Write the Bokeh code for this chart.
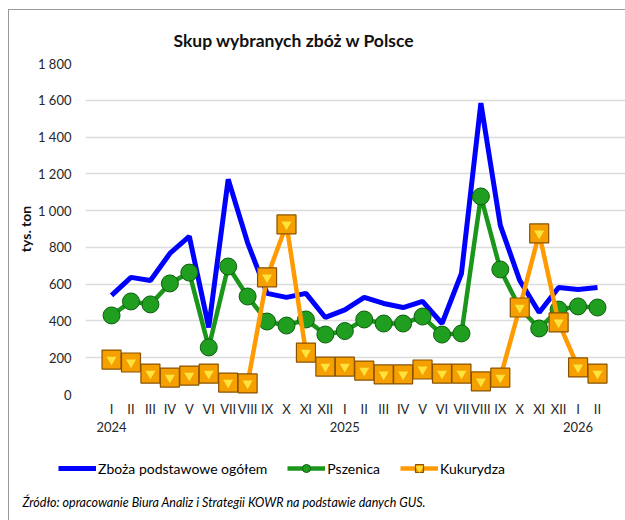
from bokeh.plotting import figure
from bokeh.models import (ColumnDataSource, Legend, LegendItem, FixedTicker,
                          Range1d, LinearAxis)
from bokeh.layouts import column
from bokeh.core.properties import value
from bokeh.embed import file_html
from bokeh.resources import INLINE

# ---- data ----
months = ["I", "II", "III", "IV", "V", "VI", "VII", "VIII", "IX", "X", "XI", "XII",
          "I", "II", "III", "IV", "V", "VI", "VII", "VIII", "IX", "X", "XI", "XII",
          "I", "II"]
year_labels = {0: "2024", 12: "2025", 24: "2026"}
total = [539, 637, 620, 767, 860, 365, 1170, 825, 550, 528, 550, 419, 460,
         528, 495, 473, 506, 386, 658, 1585, 920, 620, 446, 582, 571, 582]
wheat = [430, 506, 490, 604, 663, 256, 696, 533, 397, 375, 408, 326, 345,
         408, 386, 386, 424, 326, 332, 1077, 680, 470, 359, 462, 479, 473]
corn = [190, 174, 114, 92, 103, 114, 65, 60, 637, 925, 228, 152, 152,
        130, 109, 109, 136, 114, 114, 71, 92, 473, 876, 392, 147, 114]
y_ticks = [0, 200, 400, 600, 800, 1000, 1200, 1400, 1600, 1800]
series_names = ["Zboża podstawowe ogółem", "Pszenica", "Kukurydza"]
source_note = "Źródło: opracowanie Biura Analiz i Strategii KOWR na podstawie danych GUS."

FONT = "Lato"
BLUE, GREEN, ORANGE = "#0000ff", "#1a961a", "#ff9a00"
x = list(range(len(months)))
src = ColumnDataSource(dict(x=x, total=total, wheat=wheat, corn=corn))

# ---------- main chart ----------
p = figure(width=616, height=432, output_backend="svg", toolbar_location=None,
           x_range=Range1d(-1.34, 26.44), y_range=Range1d(0, 1800),
           min_border_left=76, min_border_right=0, min_border_top=53, min_border_bottom=48)
p.outline_line_color = None
p.frame_align = False

p.title.text = "Skup wybranych zbóż w Polsce"
p.title.text_font = FONT
p.title.text_font_size = "17.5px"
p.title.text_font_style = "bold"
p.title.text_color = "#111111"
p.title.align = "left"
p.title.offset = 88
p.title.standoff = 25

p.xaxis.ticker = FixedTicker(ticks=x)
p.xaxis.major_label_overrides = {i: m for i, m in enumerate(months)}
p.yaxis.ticker = FixedTicker(ticks=y_ticks)
p.yaxis.major_label_overrides = {t: f"{t:,}".replace(",", " ") for t in y_ticks}

year_axis = LinearAxis(ticker=FixedTicker(ticks=list(year_labels.keys())),
                       major_label_overrides=year_labels)
p.add_layout(year_axis, "below")

for ax in (p.xaxis[0], p.yaxis[0], year_axis):
    ax.axis_line_color = None
    ax.major_tick_line_color = None
    ax.minor_tick_line_color = None
    ax.major_label_text_font = FONT
    ax.major_label_text_font_size = "13px"
    ax.major_label_text_color = "#262626"
p.xaxis[0].major_label_standoff = 0
year_axis.major_label_standoff = -4
p.yaxis.major_label_standoff = 8
p.yaxis.axis_label = "tys. ton"
p.yaxis.axis_label_text_font = FONT
p.yaxis.axis_label_text_font_size = "14px"
p.yaxis.axis_label_text_font_style = "bold"
p.yaxis.axis_label_text_color = "#111111"
p.yaxis.axis_label_standoff = 1

p.xgrid.grid_line_color = None
p.ygrid.grid_line_color = "#dcdcdc"
p.ygrid.grid_line_width = 1.5

p.line("x", "total", source=src, line_color=BLUE, line_width=5)
p.line("x", "wheat", source=src, line_color=GREEN, line_width=4.5)
p.scatter("x", "wheat", source=src, marker="circle", size=17,
          fill_color="#1f9e1f", line_color="#0c5e0c", line_width=1)
p.line("x", "corn", source=src, line_color=ORANGE, line_width=4.5)
p.scatter("x", "corn", source=src, marker="square", size=19,
          fill_color="#f5a000", line_color="#8a5200", line_width=1.2)
p.scatter("x", "corn", source=src, marker="inverted_triangle", size=10,
          fill_color="#ffe23c", line_color=None)

# ---------- legend + source note ----------
p2 = figure(width=616, height=78, output_backend="svg", toolbar_location=None,
            x_range=Range1d(0, 616), y_range=Range1d(0, 78),
            min_border=0, min_border_left=0, min_border_right=0,
            min_border_top=0, min_border_bottom=0)
p2.frame_align = False
p2.axis.visible = False
p2.grid.visible = False
p2.outline_line_color = None

far = dict(x=[-1000, -999], y=[-1000, -999])
k1 = p2.line(x=far["x"], y=far["y"], line_color=BLUE, line_width=5)
k2 = p2.line(x=far["x"], y=far["y"], line_color=GREEN, line_width=4.5)
k2m = p2.scatter(x=far["x"], y=far["y"], marker="circle", size=13,
                 fill_color="#1f9e1f", line_color="#0c5e0c", line_width=1)
k3 = p2.line(x=far["x"], y=far["y"], line_color=ORANGE, line_width=4.5)
k3m = p2.scatter(x=far["x"], y=far["y"], marker="square", size=13,
                 fill_color="#f5a000", line_color="#8a5200", line_width=1.2)
k3t = p2.scatter(x=far["x"], y=far["y"], marker="inverted_triangle", size=7,
                 fill_color="#ffe23c", line_color=None)

legend = Legend(items=[
    LegendItem(label=series_names[0], renderers=[k1], index=0),
    LegendItem(label=series_names[1], renderers=[k2, k2m], index=0),
    LegendItem(label=series_names[2], renderers=[k3, k3m, k3t], index=0),
], orientation="horizontal", location=(49, 42),
   label_text_font=FONT, label_text_font_size="14px", label_text_color="#000000",
   glyph_width=38, glyph_height=20, label_standoff=2, spacing=20, border_line_color=None,
   background_fill_alpha=0, margin=0, padding=4)
p2.add_layout(legend, "center")

p2.text(x=[13], y=[18], text=[source_note], text_font=value(FONT),
        text_font_size="12.5px", text_font_style="italic", text_color="#000000",
        text_baseline="middle", text_align="left")

layout = column(p, p2, spacing=0)
layout.margin = (9, 0, 0, 8)
layout.styles = {"border-left": "1px solid #999999", "border-top": "1px solid #999999"}

open("out.html", "w").write(file_html(layout, INLINE))
